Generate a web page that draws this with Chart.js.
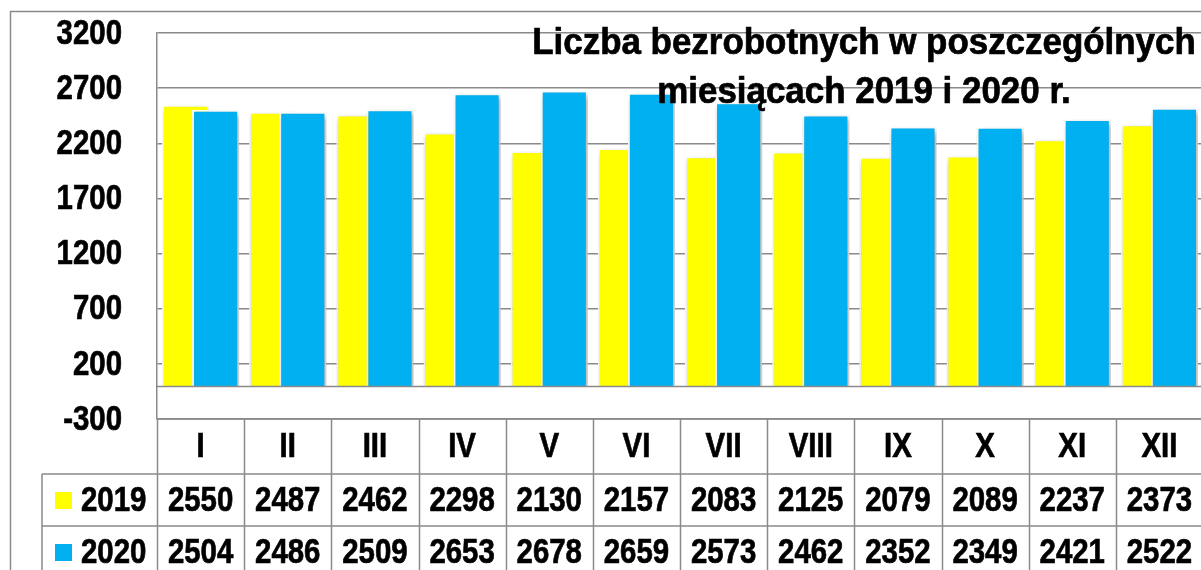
<!DOCTYPE html>
<html>
<head>
<meta charset="utf-8">
<script src="https://cdn.jsdelivr.net/npm/chart.js@4.4.1/dist/chart.umd.min.js"></script>
<style>
  html, body { margin: 0; padding: 0; background: #fff; overflow: hidden; }
  #wrap { width: 1201px; height: 570px; overflow: hidden; }
  canvas { display: block; }
</style>
</head>
<body>
<div id="wrap"><canvas id="chart" width="1215" height="570"></canvas></div>
<script>
const months = ['I', 'II', 'III', 'IV', 'V', 'VI', 'VII', 'VIII', 'IX', 'X', 'XI', 'XII'];
const values2019 = [2550, 2487, 2462, 2298, 2130, 2157, 2083, 2125, 2079, 2089, 2237, 2373];
const values2020 = [2504, 2486, 2509, 2653, 2678, 2659, 2573, 2462, 2352, 2349, 2421, 2522];
const seriesNames = ['2019', '2020'];
const seriesColors = ['#ffff00', '#00b0f0'];
const titleLines = ['Liczba bezrobotnych w poszczególnych', 'miesiącach 2019 i 2020 r.'];
const yMin = -300;
const yMax = 3200;
const yStep = 500;

const FONT = '"Liberation Sans", Arial, sans-serif';
const LINE = '#8a8a8a';

// Arial Narrow look: squeeze Liberation Sans Bold horizontally
function narrowText(ctx, text, x, y, size, align, squeeze) {
  ctx.save();
  ctx.font = 'bold ' + size + 'px ' + FONT;
  ctx.textAlign = align;
  ctx.translate(x, y);
  ctx.scale(squeeze, 1);
  ctx.lineWidth = 0.7;
  ctx.strokeStyle = '#000';
  ctx.fillText(text, 0, 0);
  ctx.strokeText(text, 0, 0);
  ctx.restore();
}

// blue bars sit on top of the yellow ones, like in the original
const barOrder = {
  id: 'barOrder',
  beforeDatasetsDraw(chart) {
    const ctx = chart.ctx;
    ctx.save();
    ctx.shadowColor = 'rgba(0,0,0,0.35)';
    ctx.shadowBlur = 6;
    ctx.shadowOffsetX = 2;
    ctx.shadowOffsetY = 3;
    chart.getDatasetMeta(0).controller.draw();
  },
  beforeDatasetDraw(chart, args) {
    if (args.index === 0) return false;
  },
  afterDatasetsDraw(chart) {
    const ctx = chart.ctx;
    ctx.restore();
    const { left, right } = chart.chartArea;
    const y0 = Math.round(chart.scales.y.getPixelForValue(0)) + 0.5;
    ctx.save();
    ctx.strokeStyle = LINE;
    ctx.lineWidth = 1.5;
    ctx.beginPath();
    ctx.moveTo(left, y0);
    ctx.lineTo(right, y0);
    ctx.stroke();

    // title
    ctx.fillStyle = '#000';
    ctx.textBaseline = 'alphabetic';
    narrowText(ctx, titleLines[0], 864, 54, 36, 'center', 0.97);
    narrowText(ctx, titleLines[1], 864, 103, 36, 'center', 0.97);
    ctx.restore();
  }
};

// y tick labels, data table under the plot, outer frame
const dataTable = {
  id: 'dataTable',
  afterDraw(chart) {
    const ctx = chart.ctx;
    const area = chart.chartArea;
    const x = chart.scales.x;
    const y = chart.scales.y;
    const w = (area.right - area.left) / months.length;
    const top = area.bottom;
    const rows = [top, top + 55, top + 107, top + 159];
    const legendLeft = 42;

    ctx.save();
    ctx.fillStyle = '#000';
    ctx.textBaseline = 'middle';
    y.ticks.forEach(t => {
      narrowText(ctx, String(t.value), area.left - 35, y.getPixelForValue(t.value) + 1, 35, 'right', 0.84);
    });

    ctx.strokeStyle = LINE;
    ctx.lineWidth = 1.5;
    ctx.beginPath();
    ctx.moveTo(area.left, rows[0]); ctx.lineTo(area.right + 20, rows[0]);
    for (let r = 1; r < rows.length; r++) {
      ctx.moveTo(legendLeft, rows[r]); ctx.lineTo(area.right + 20, rows[r]);
    }
    ctx.moveTo(legendLeft, rows[1]); ctx.lineTo(legendLeft, chart.height);
    for (let i = 0; i <= months.length; i++) {
      const xx = Math.round(area.left + i * w) + 0.5;
      ctx.moveTo(xx, rows[0]); ctx.lineTo(xx, chart.height);
    }
    ctx.moveTo(10.5, chart.height); ctx.lineTo(10.5, 11.5); ctx.lineTo(chart.width, 11.5);
    ctx.stroke();

    const mid = r => (rows[r] + rows[r + 1]) / 2 + 1;
    months.forEach((m, i) => {
      const cx = x.getPixelForValue(i);
      narrowText(ctx, m, cx, mid(0), 35, 'center', 0.84);
      narrowText(ctx, String(values2019[i]), cx, mid(1), 35, 'center', 0.84);
      narrowText(ctx, String(values2020[i]), cx, mid(2), 35, 'center', 0.84);
    });

    seriesNames.forEach((name, s) => {
      const cy = mid(s + 1);
      ctx.fillStyle = seriesColors[s];
      ctx.fillRect(55, cy - 9, 17, 17);
      ctx.fillStyle = '#000';
      narrowText(ctx, name, 81, cy, 35, 'left', 0.84);
    });
    ctx.restore();
  }
};

new Chart(document.getElementById('chart'), {
  type: 'bar',
  data: {
    labels: months,
    datasets: [
      {
        label: seriesNames[0],
        data: values2019,
        backgroundColor: seriesColors[0],
        borderColor: '#ffffff',
        borderWidth: 2,
        categoryPercentage: 0.69,
        barPercentage: 1.567
      },
      {
        label: seriesNames[1],
        data: values2020,
        backgroundColor: seriesColors[1],
        borderColor: '#ffffff',
        borderWidth: 2,
        categoryPercentage: 0.69,
        barPercentage: 1.567
      }
    ]
  },
  options: {
    responsive: false,
    animation: false,
    layout: { padding: { left: 10, top: 33, right: 12, bottom: 151 } },
    plugins: {
      legend: { display: false },
      tooltip: { enabled: false },
      title: { display: false }
    },
    scales: {
      x: { display: false },
      y: {
        min: yMin,
        max: yMax,
        ticks: { stepSize: yStep, display: false },
        grid: { color: LINE, lineWidth: 1.5, drawTicks: false },
        border: { color: LINE, width: 1.5 },
        afterFit(scale) { scale.width = 147; }
      }
    }
  },
  plugins: [barOrder, dataTable]
});
</script>
</body>
</html>
